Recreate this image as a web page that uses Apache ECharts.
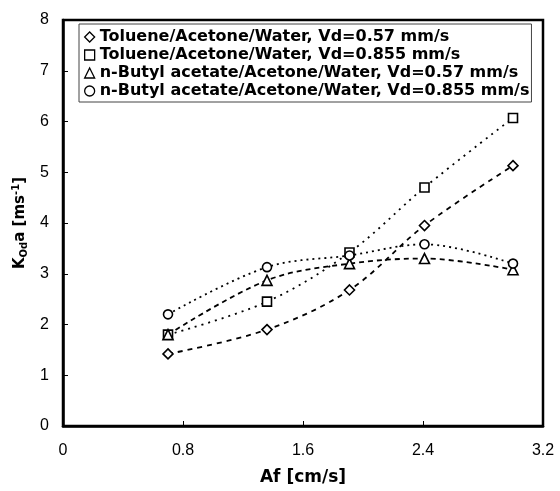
<!DOCTYPE html>
<html>
<head>
<meta charset="utf-8">
<script src="https://cdn.jsdelivr.net/npm/echarts@6/dist/echarts.min.js"></script>
<style>
    html, body { margin: 0; padding: 0; background: #fff; }
    #chart { width: 560px; height: 491px; }
</style>
</head>
<body>
<div id="chart"></div>
<script>
// Af [cm/s]
var afValues = [0.7, 1.36, 1.91, 2.41, 3.0];
// KOd a [ms-1]
var tolueneLow = [1.42, 1.9, 2.68, 3.95, 5.13];
var tolueneHigh = [1.8, 2.45, 3.42, 4.7, 6.07];
var butylLow = [1.8, 2.87, 3.2, 3.3, 3.08];
var butylHigh = [2.2, 3.13, 3.36, 3.58, 3.2];

var seriesNames = [
    'Toluene/Acetone/Water, Vd=0.57 mm/s',
    'Toluene/Acetone/Water, Vd=0.855 mm/s',
    'n-Butyl acetate/Acetone/Water, Vd=0.57 mm/s',
    'n-Butyl acetate/Acetone/Water, Vd=0.855 mm/s'
];
var xTicks = [0, 0.8, 1.6, 2.4, 3.2];

var diamondIcon = 'path://M5,0L10,5L5,10L0,5Z';
var symbols = [diamondIcon, 'rect', 'triangle', 'circle'];
var symbolSizes = [10, 9, 10, 9];
var dashes = [[5, 5], [2, 5], [5, 4], [2, 4]];

function pairs(xs, ys) {
    var out = [];
    for (var i = 0; i < xs.length; i++) {
        out.push([xs[i], ys[i]]);
    }
    return out;
}

var allValues = [tolueneLow, tolueneHigh, butylLow, butylHigh];
var series = [];
for (var i = 0; i < allValues.length; i++) {
    series.push({
        name: seriesNames[i],
        type: 'line',
        smooth: 0.35,
        data: pairs(afValues, allValues[i]),
        symbol: symbols[i],
        symbolSize: symbolSizes[i],
        showAllSymbol: true,
        itemStyle: { color: '#fff', borderColor: '#000', borderWidth: 1.6 },
        lineStyle: { color: '#000', width: 1.8, type: dashes[i] },
        z: 2
    });
}

var boldFont = 'DejaVu Sans';
var myChart = echarts.init(document.getElementById('chart'));
var option = {
    animation: false,
    textStyle: { fontFamily: 'Liberation Sans, Arial, sans-serif', color: '#000' },
    grid: {
        left: 63,
        right: 17,
        top: 20,
        bottom: 60,
        show: true,
        borderColor: '#000',
        borderWidth: 2.5,
        backgroundColor: 'transparent'
    },
    legend: {
        orient: 'vertical',
        left: 79,
        top: 24,
        itemWidth: 10,
        itemHeight: 10,
        itemGap: 2,
        padding: [5, 2, 3, 5],
        borderColor: '#444',
        borderWidth: 1,
        backgroundColor: '#fff',
        itemStyle: { color: '#fff', borderColor: '#000', borderWidth: 1.3 },
        textStyle: { fontSize: 16, fontWeight: 'bold', color: '#000', fontFamily: boldFont },
        data: seriesNames.map(function (n, i) {
            return { name: n, icon: symbols[i] };
        })
    },
    xAxis: {
        type: 'value',
        min: 0,
        max: 3.2,
        interval: 0.8,
        name: 'Af [cm/s]',
        nameLocation: 'middle',
        nameGap: 43,
        nameTextStyle: { fontSize: 17, fontWeight: 'bold', color: '#000', fontFamily: boldFont },
        axisLine: { show: true, lineStyle: { color: '#000', width: 2.5 } },
        axisTick: { show: true, inside: true, length: 5, lineStyle: { color: '#000', width: 1 } },
        axisLabel: {
            fontSize: 16,
            color: '#000',
            margin: 17,
            formatter: function (v) {
                for (var k = 0; k < xTicks.length; k++) {
                    if (Math.abs(xTicks[k] - v) < 1e-6) return String(xTicks[k]);
                }
                return '';
            }
        },
        splitLine: { show: false }
    },
    yAxis: {
        type: 'value',
        min: 0,
        max: 8,
        interval: 1,
        name: '{b|K}{s|Od}{b|a [ms}{p|-1}{b|]}',
        nameLocation: 'middle',
        nameGap: 34,
        nameTextStyle: {
            rich: {
                b: { fontSize: 15, fontWeight: 'bold', color: '#000', fontFamily: boldFont },
                s: { fontSize: 10, fontWeight: 'bold', color: '#000', fontFamily: boldFont, padding: [8, 0, 0, 0] },
                p: { fontSize: 10, fontWeight: 'bold', color: '#000', fontFamily: boldFont, padding: [0, 0, 8, 0] }
            }
        },
        axisLine: { show: true, lineStyle: { color: '#000', width: 2.5 } },
        axisTick: { show: true, inside: true, length: 5, lineStyle: { color: '#000', width: 1 } },
        axisLabel: { fontSize: 16, color: '#000', margin: 14 },
        splitLine: { show: false }
    },
    series: series
};
myChart.setOption(option);
</script>
</body>
</html>
